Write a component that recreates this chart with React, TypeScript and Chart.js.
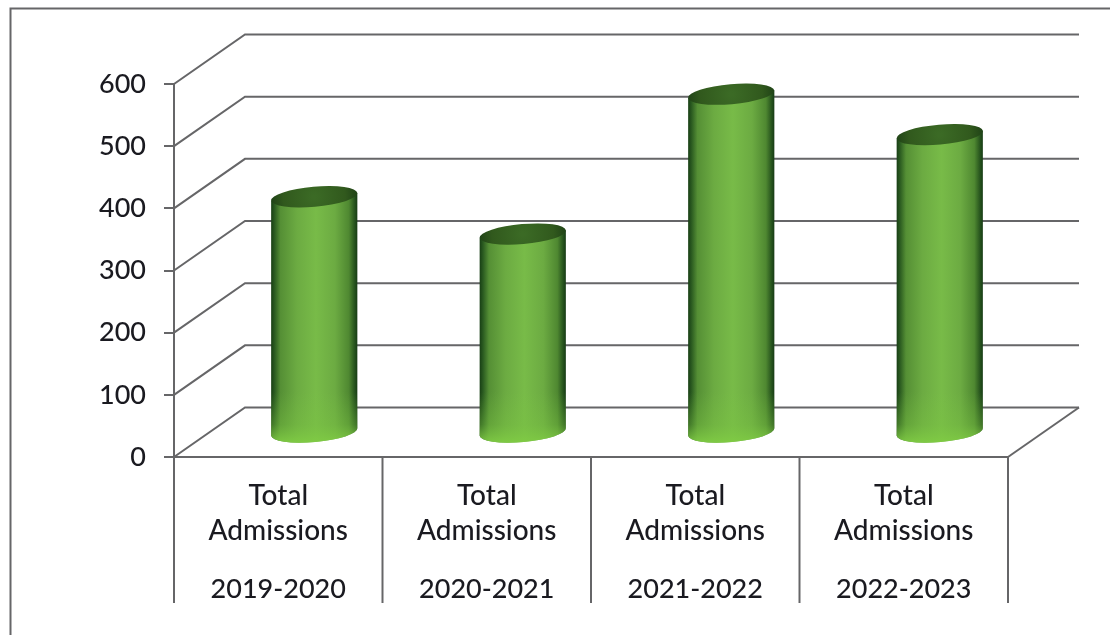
import React, { useEffect, useRef } from "react";
import { Chart, registerables } from "chart.js";

Chart.register(...registerables);

const categories = [
  ["Total", "Admissions"],
  ["Total", "Admissions"],
  ["Total", "Admissions"],
  ["Total", "Admissions"],
];
const years = ["2019-2020", "2020-2021", "2021-2022", "2022-2023"];
const admissions = [380, 320, 545, 480];
const yTickStep = 100;
const yMax = 600;

const LINE = "#666668";
const TEXT = "#1a1a20";
const FONT = "Lato";
const FONT_SIZE = 28;
const NUMBER_FONT_SIZE = 27;
const FONT_WEIGHT = "500";

// Depth of the box drawn behind the value plane, and of the plane holding the cylinders.
const WALL_DX = 71;
const WALL_DY = -49.5;
const BAR_DX = 36;
const BAR_DY = -24;
const CAP_RY = 10;
const CAP_TILT = (-5 * Math.PI) / 180;

const stroke = (ctx: CanvasRenderingContext2D, pts: number[][]) => {
  ctx.beginPath();
  pts.forEach(([x, y], i) => (i ? ctx.lineTo(x, y) : ctx.moveTo(x, y)));
  ctx.stroke();
};

const drawCylinder = (
  ctx: CanvasRenderingContext2D,
  cx: number,
  top: number,
  base: number,
  width: number,
) => {
  const rx = width / 2;
  const left = cx - rx;
  const right = cx + rx;
  const c = Math.cos(CAP_TILT);
  const s = Math.sin(CAP_TILT);

  // Body: straight sides closed by the lower half of each tilted ellipse.
  const body = () => {
    ctx.beginPath();
    ctx.ellipse(cx, base, rx, CAP_RY, CAP_TILT, Math.PI, 0, true);
    ctx.lineTo(cx + rx * c, top + rx * s);
    ctx.lineTo(cx - rx * c, top - rx * s);
    ctx.closePath();
  };

  const side = ctx.createLinearGradient(left, 0, right, 0);
  side.addColorStop(0, "#173d14");
  side.addColorStop(0.04, "#2a5a20");
  side.addColorStop(0.11, "#558f35");
  side.addColorStop(0.3, "#6cab42");
  side.addColorStop(0.52, "#78bb48");
  side.addColorStop(0.74, "#6cab42");
  side.addColorStop(0.9, "#4f8831");
  side.addColorStop(0.97, "#24501c");
  side.addColorStop(1, "#163a14");
  body();
  ctx.fillStyle = side;
  ctx.fill();

  // The foot of the cylinder brightens and loses its dark edges.
  const foot = ctx.createLinearGradient(0, base - 40, 0, base + CAP_RY);
  foot.addColorStop(0, "rgba(122,196,66,0)");
  foot.addColorStop(0.65, "rgba(122,196,66,0.4)");
  foot.addColorStop(1, "rgba(128,204,68,0.9)");
  body();
  ctx.fillStyle = foot;
  ctx.fill();

  // Dark top cap.
  const cap = ctx.createRadialGradient(cx, top, 2, cx, top, rx);
  cap.addColorStop(0, "#3b6a25");
  cap.addColorStop(0.7, "#31591d");
  cap.addColorStop(1, "#204317");
  ctx.beginPath();
  ctx.ellipse(cx, top, rx, CAP_RY, CAP_TILT, 0, Math.PI * 2);
  ctx.fillStyle = cap;
  ctx.fill();
};

const boxPlugin = {
  id: "box3d",
  beforeDatasetsDraw(chart: any) {
    const { ctx, chartArea, scales, canvas } = chart;
    const { left, right, bottom } = chartArea;
    ctx.save();
    ctx.strokeStyle = LINE;
    ctx.lineWidth = 2;

    // Outer frame, open towards the right and bottom edges.
    stroke(ctx, [
      [10.5, canvas.height],
      [10.5, 8.5],
      [canvas.width, 8.5],
    ]);

    // Side wall and back wall lines at each tick.
    scales.y.ticks.forEach((t: any) => {
      const y = scales.y.getPixelForValue(t.value);
      stroke(ctx, [
        [left, y],
        [left + WALL_DX, y + WALL_DY],
        [right + WALL_DX, y + WALL_DY],
      ]);
    });

    // Right edge of the floor.
    stroke(ctx, [
      [right, bottom],
      [right + WALL_DX, bottom + WALL_DY],
    ]);

    // Dividers between categories, running down through the label rows.
    const n = categories.length;
    for (let i = 0; i <= n; i++) {
      const x = i === n ? right : scales.x.getPixelForValue(i - 0.5);
      stroke(ctx, [
        [x, bottom],
        [x, 603],
      ]);
    }
    ctx.restore();
  },
  beforeDatasetDraw(chart: any, args: any) {
    const { ctx } = chart;
    args.meta.data.forEach((bar: any) => {
      const { x, y, base, width } = bar.getProps(["x", "y", "base", "width"], true);
      drawCylinder(ctx, x + BAR_DX, y + BAR_DY, base + BAR_DY, width);
    });
    return false;
  },
};

export default function App() {
  const canvasRef = useRef<HTMLCanvasElement>(null);

  useEffect(() => {
    const chart = new Chart(canvasRef.current!, {
      type: "bar",
      data: {
        labels: categories,
        datasets: [
          {
            label: "Total Admissions",
            data: admissions,
            backgroundColor: "#6cab42",
            barPercentage: 0.415,
            categoryPercentage: 1,
          },
        ],
      },
      options: {
        responsive: false,
        animation: false,
        layout: { padding: { left: 0, right: 102, top: 84, bottom: 18 } },
        plugins: { legend: { display: false }, tooltip: { enabled: false } },
        scales: {
          y: {
            min: 0,
            max: yMax,
            afterFit: (s: any) => {
              s.width = 174;
            },
            ticks: {
              stepSize: yTickStep,
              color: TEXT,
              padding: 18,
              font: { family: FONT, size: NUMBER_FONT_SIZE, weight: FONT_WEIGHT },
            },
            grid: {
              drawOnChartArea: false,
              tickLength: 10,
              tickColor: LINE,
              lineWidth: 2,
            },
            border: { color: LINE, width: 2 },
          },
          x: {
            position: "bottom",
            weight: 0,
            afterFit: (s: any) => {
              s.height = 100;
            },
            ticks: {
              color: TEXT,
              padding: 13,
              maxRotation: 0,
              autoSkip: false,
              font: { family: FONT, size: FONT_SIZE, weight: FONT_WEIGHT, lineHeight: 1.25 },
            },
            grid: { display: false },
            border: { color: LINE, width: 2 },
          },
          x2: {
            type: "category",
            labels: years,
            position: "bottom",
            weight: 1,
            offset: true,
            afterFit: (s: any) => {
              s.height = 60;
            },
            ticks: {
              color: TEXT,
              padding: 8,
              maxRotation: 0,
              autoSkip: false,
              font: { family: FONT, size: NUMBER_FONT_SIZE, weight: FONT_WEIGHT },
            },
            grid: { display: false },
            border: { display: false },
          },
        },
      },
      plugins: [boxPlugin],
    });
    return () => chart.destroy();
  }, []);

  return (
    <div style={{ position: "absolute", left: 0, top: 0, width: 1110, height: 635, background: "#fff" }}>
      <canvas ref={canvasRef} width={1110} height={635} style={{ display: "block" }} />
    </div>
  );
}
